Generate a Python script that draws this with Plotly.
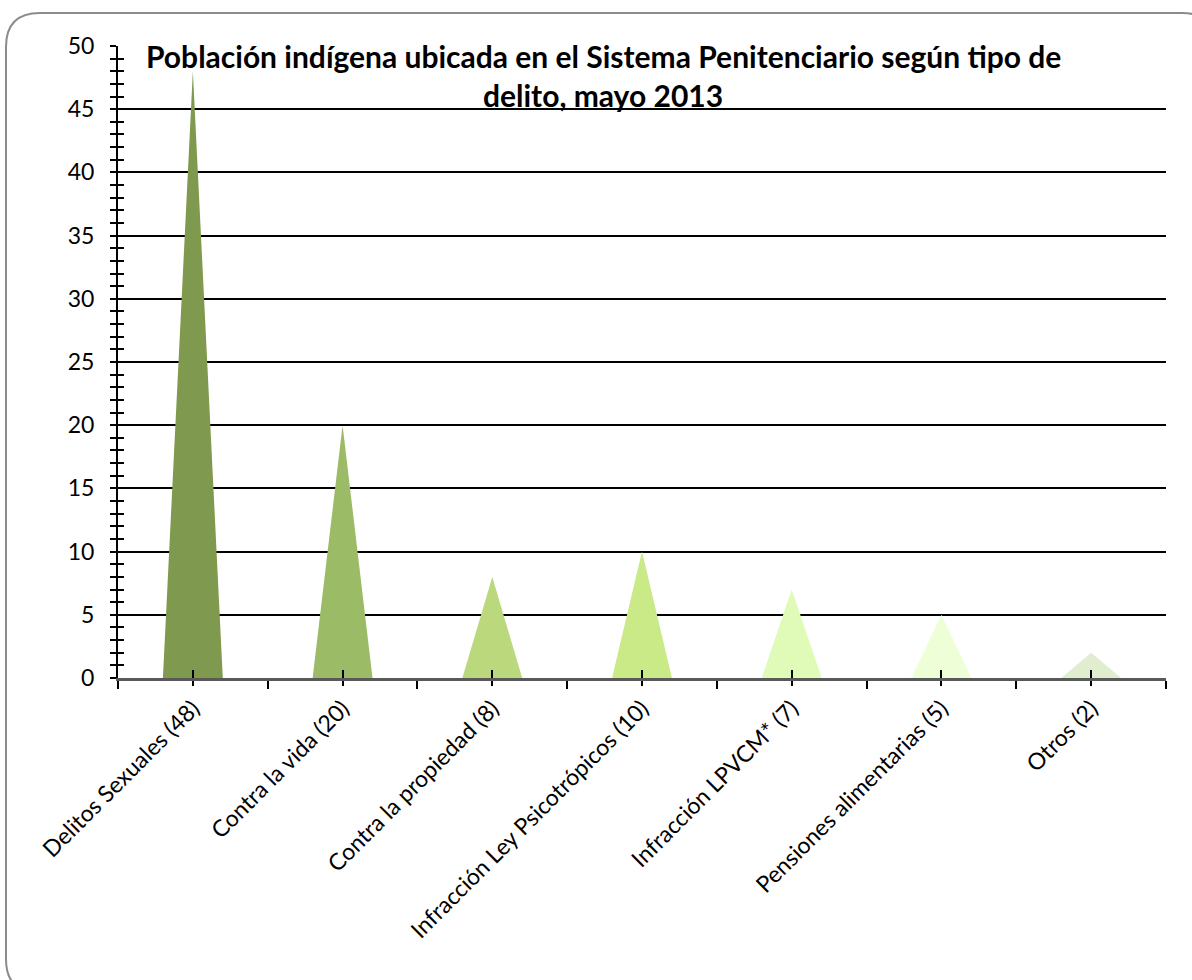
import plotly.graph_objects as go

categories = ["Delitos Sexuales (48)", "Contra la vida (20)", "Contra la propiedad (8)",
              "Infracción Ley Psicotrópicos (10)", "Infracción LPVCM* (7)",
              "Pensiones alimentarias (5)", "Otros (2)"]
values = [48, 20, 8, 10, 7, 5, 2]
colors = ["#7F9A4E", "#9BBB66", "#BBD97C", "#C9EA86", "#E0FBB7", "#EEFFD8", "#E0EDCF"]
title_lines = ["Población indígena ubicada en el Sistema Penitenciario según tipo de",
               "delito, mayo 2013"]

FONT = "Lato"
W, H = 1192, 980
L, R, T, B = 118, 26, 46, 302
PW, PH = W - L - R, H - T - B
HALF = 0.2

fig = go.Figure()
for i, (c, v, col) in enumerate(zip(categories, values, colors)):
    fig.add_trace(go.Scatter(
        x=[i - HALF, i, i + HALF, i - HALF], y=[0, v, 0, 0],
        fill="toself", fillcolor=col, mode="lines", line=dict(width=0, color=col),
        hoverinfo="text", text=c, showlegend=False))

# invisible trace for overlay axis
fig.add_trace(go.Scatter(x=[0], y=[0], xaxis="x2", yaxis="y2", mode="markers",
                         marker=dict(opacity=0), showlegend=False, hoverinfo="skip"))


def px(xp):
    return (xp - L) / PW


def py(yp):
    return (H - B - yp) / PH


# rounded border
x0, y0, x1, y1, r = 6, 13, 1216, 993, 34
path = (f"M {px(x0+r)},{py(y0)} L {px(x1-r)},{py(y0)} "
        f"Q {px(x1)},{py(y0)} {px(x1)},{py(y0+r)} L {px(x1)},{py(y1-r)} "
        f"Q {px(x1)},{py(y1)} {px(x1-r)},{py(y1)} L {px(x0+r)},{py(y1)} "
        f"Q {px(x0)},{py(y1)} {px(x0)},{py(y1-r)} L {px(x0)},{py(y0+r)} "
        f"Q {px(x0)},{py(y0)} {px(x0+r)},{py(y0)} Z")

fig.update_layout(
    width=W, height=H,
    margin=dict(l=L, r=R, t=T, b=B),
    paper_bgcolor="white", plot_bgcolor="white",
    font=dict(family=FONT, color="black"),
    xaxis=dict(range=[-0.5, 6.5], tickvals=list(range(len(categories))), ticktext=categories,
               tickangle=-45, tickfont=dict(size=23, family=FONT),
               showgrid=False, zeroline=False, showline=True, linecolor="#595959", linewidth=3,
               ticks="outside", ticklen=5, tickwidth=2, tickcolor="black",
               minor=dict(tickmode="linear", tick0=-0.5, dtick=1, ticks="outside",
                          ticklen=8, tickwidth=2, tickcolor="black"),
               fixedrange=True),
    xaxis2=dict(overlaying="x", range=[-0.5, 6.5], tickvals=list(range(len(categories))),
                showticklabels=False, ticks="inside", ticklen=8, tickwidth=2, tickcolor="black",
                showgrid=False, zeroline=False, showline=False, side="bottom", anchor="y"),
    yaxis=dict(range=[0, 50], dtick=5, tickfont=dict(size=23, family=FONT),
               showgrid=True, gridcolor="black", gridwidth=2, zeroline=False,
               showline=True, linecolor="black", linewidth=2,
               ticks="outside", ticklen=6, tickwidth=2, tickcolor="black",
               minor=dict(dtick=1, ticks="outside", ticklen=6, tickwidth=2, tickcolor="black"),
               ticklabelstandoff=11),
    yaxis2=dict(overlaying="y", range=[0, 50], dtick=5, showticklabels=False,
                ticks="inside", ticklen=6, tickwidth=2, tickcolor="black",
                minor=dict(dtick=1, ticks="inside", ticklen=6, tickwidth=2, tickcolor="black"),
                showgrid=False, zeroline=False, showline=False, anchor="x"),
    shapes=[dict(type="path", path=path, xref="paper", yref="paper",
                 line=dict(color="#8C8C8C", width=2), layer="below")],
    annotations=[
        dict(text=f"<b>{title_lines[0]}</b>", x=px(603), y=py(56), xref="paper", yref="paper",
             showarrow=False, xanchor="center", yanchor="middle",
             font=dict(size=30, family=FONT, color="black")),
        dict(text=f"<b>{title_lines[1]}</b>", x=px(603), y=py(95), xref="paper", yref="paper",
             showarrow=False, xanchor="center", yanchor="middle",
             font=dict(size=30, family=FONT, color="black")),
    ],
)

fig.write_html("out.html", config={"displayModeBar": False},
               post_script="document.body.style.margin='0';document.body.style.overflow='hidden';")
